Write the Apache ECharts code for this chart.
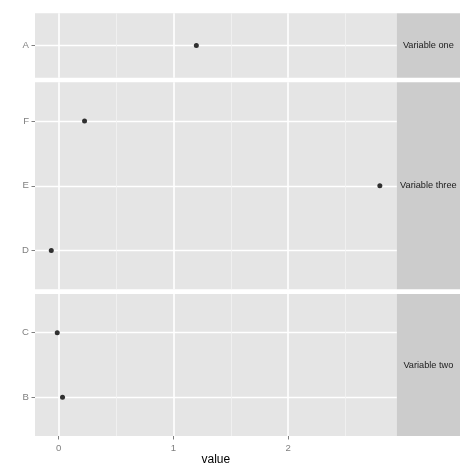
<!DOCTYPE html>
<html>
<head>
<meta charset="utf-8">
<script src="https://cdn.jsdelivr.net/npm/echarts@6/dist/echarts.min.js"></script>
<style>
  html, body { margin: 0; padding: 0; background: #fff; }
  #chart { width: 474px; height: 474px; }
</style>
</head>
<body>
<div id="chart"></div>
<script>
// facet strips, top to bottom
const stripLabels = ["Variable one", "Variable three", "Variable two"];

// categories (bottom to top inside each panel) and their values
const oneCats = ["A"];
const oneValues = [1.2];
const threeCats = ["D", "E", "F"];
const threeValues = [-0.065, 2.8, 0.225];
const twoCats = ["B", "C"];
const twoValues = [0.033, -0.013];

const xTicks = [0, 1, 2];
const xRange = [-0.207, 2.947];
const xTitle = "value";

// layout
const panelBoxes = [[13.3, 64.4], [82.3, 207], [294, 142]]; // top, height
const yPad = [0.5, 0.6, 0.6];
const panelLeft = 35;
const panelRight = 396.7;
const stripWidth = 63.3;
const font = "Liberation Sans";

const panels = [
  { cats: oneCats, values: oneValues },
  { cats: threeCats, values: threeValues },
  { cats: twoCats, values: twoValues },
];

const grids = [], xAxes = [], yAxes = [], series = [], graphics = [];

panels.forEach((p, i) => {
  const [top, height] = panelBoxes[i];
  const isLast = i === panels.length - 1;
  const catIdx = p.cats.map((c, k) => k + 1);

  grids.push({
    left: panelLeft, width: panelRight - panelLeft, top: top, height: height,
    show: true, backgroundColor: "#E5E5E5", borderWidth: 0,
  });

  xAxes.push({
    type: "value", gridIndex: i, min: xRange[0], max: xRange[1],
    splitNumber: 3, minInterval: 1, maxInterval: 1,
    name: isLast ? xTitle : "", nameLocation: "middle", nameGap: 18,
    nameTextStyle: { fontFamily: font, fontSize: 12, color: "#000" },
    axisLine: { show: false, onZero: false },
    axisTick: { show: isLast, customValues: xTicks, length: 3.5, lineStyle: { color: "#7F7F7F" } },
    axisLabel: {
      show: isLast, customValues: xTicks, margin: 7,
      fontFamily: font, fontSize: 9.6, color: "#7F7F7F",
      formatter: v => (xTicks.includes(v) ? String(v) : ""),
    },
    splitLine: { show: true, lineStyle: { color: "#FFFFFF", width: 1.6 } },
    minorTick: { show: false, splitNumber: 2 },
    minorSplitLine: { show: true, lineStyle: { color: "#F2F2F2", width: 0.8 } },
  });

  yAxes.push({
    type: "value", gridIndex: i, min: 1 - yPad[i], max: p.cats.length + yPad[i],
    minInterval: 1, maxInterval: 1,
    axisLine: { show: false, onZero: false },
    axisTick: { show: true, customValues: catIdx, length: 3.5, lineStyle: { color: "#7F7F7F" } },
    axisLabel: {
      customValues: catIdx, margin: 6,
      fontFamily: font, fontSize: 9.6, color: "#7F7F7F",
      formatter: v => (Number.isInteger(v) && p.cats[v - 1]) || "",
    },
    splitLine: { show: true, lineStyle: { color: "#FFFFFF", width: 1.3 } },
  });

  series.push({
    type: "scatter", xAxisIndex: i, yAxisIndex: i,
    symbol: "circle", symbolSize: 5,
    itemStyle: { color: "#000" },
    data: p.values.map((v, k) => [v, k + 1]),
  });

  graphics.push({
    type: "rect",
    shape: { x: panelRight, y: top, width: stripWidth, height: height },
    style: { fill: "#CCCCCC" },
  });
  graphics.push({
    type: "text",
    x: panelRight + stripWidth / 2, y: top + height / 2,
    style: {
      text: stripLabels[i], fontFamily: font, fontSize: 9.2, fill: "#1A1A1A",
      align: "center", verticalAlign: "middle",
    },
  });
});

const chart = echarts.init(document.getElementById("chart"));
chart.setOption({
  animation: false,
  backgroundColor: "#FFFFFF",
  grid: grids,
  xAxis: xAxes,
  yAxis: yAxes,
  series: series,
  graphic: graphics,
});
window.addEventListener("resize", chart.resize);
</script>
</body>
</html>
